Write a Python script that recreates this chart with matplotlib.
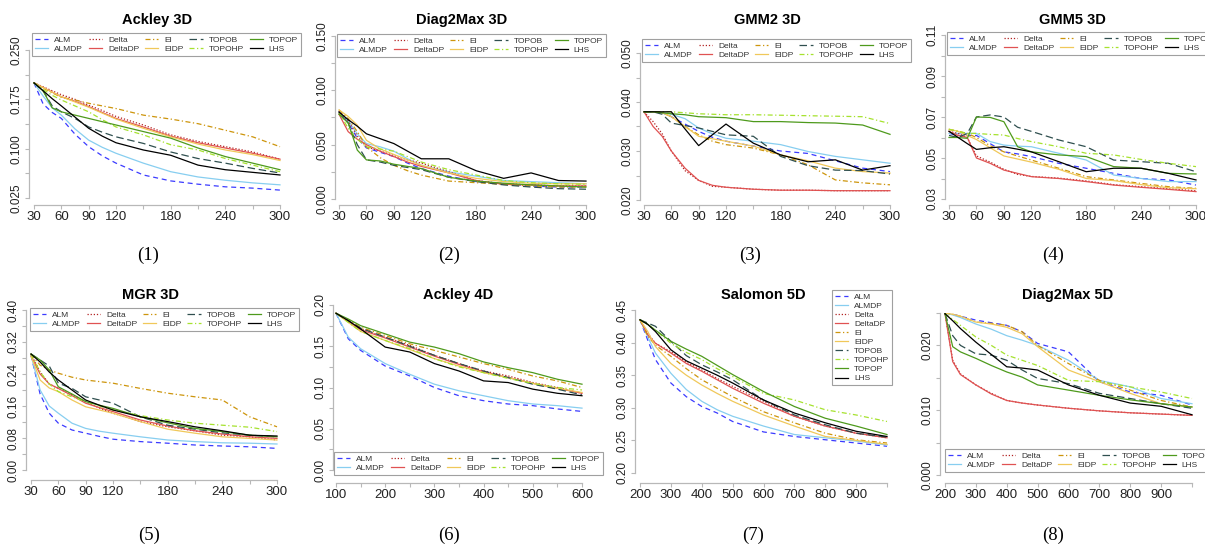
import matplotlib
matplotlib.use("Agg")
import matplotlib.pyplot as plt

plt.rcParams['font.family'] = ['Liberation Sans', 'DejaVu Sans']

W, H = 1205, 544

methods = ['ALM', 'ALMDP', 'Delta', 'DeltaDP', 'EI', 'EIDP', 'TOPOB', 'TOPOHP', 'TOPOP', 'LHS']

# ---- data (rows follow the order of `methods`) ----
x3d = [30, 40, 50, 60, 75, 90, 105, 120, 150, 180, 210, 240, 270, 300]
x4d = [100, 125, 150, 200, 250, 300, 350, 400, 450, 500, 550, 600]
x5d = [200, 225, 250, 300, 350, 400, 450, 500, 600, 700, 800, 900, 1000]

ackley3d = [
    [0.200, 0.168, 0.155, 0.146, 0.122, 0.103, 0.089, 0.078, 0.060, 0.051, 0.046, 0.042, 0.040, 0.037],
    [0.200, 0.180, 0.162, 0.151, 0.130, 0.113, 0.102, 0.093, 0.078, 0.065, 0.057, 0.052, 0.048, 0.045],
    [0.200, 0.194, 0.188, 0.182, 0.175, 0.166, 0.158, 0.149, 0.136, 0.121, 0.111, 0.103, 0.095, 0.084],
    [0.200, 0.193, 0.186, 0.179, 0.172, 0.164, 0.155, 0.146, 0.133, 0.119, 0.109, 0.101, 0.093, 0.084],
    [0.200, 0.192, 0.185, 0.178, 0.174, 0.169, 0.165, 0.161, 0.151, 0.145, 0.138, 0.128, 0.118, 0.103],
    [0.200, 0.193, 0.186, 0.179, 0.171, 0.163, 0.154, 0.145, 0.131, 0.118, 0.107, 0.098, 0.091, 0.082],
    [0.200, 0.188, 0.165, 0.156, 0.146, 0.133, 0.125, 0.118, 0.108, 0.095, 0.085, 0.078, 0.070, 0.063],
    [0.200, 0.190, 0.181, 0.174, 0.165, 0.156, 0.144, 0.133, 0.121, 0.106, 0.098, 0.085, 0.075, 0.065],
    [0.200, 0.188, 0.162, 0.156, 0.151, 0.146, 0.141, 0.136, 0.126, 0.116, 0.101, 0.088, 0.078, 0.068],
    [0.200, 0.188, 0.176, 0.165, 0.148, 0.131, 0.119, 0.109, 0.098, 0.090, 0.075, 0.068, 0.064, 0.060],
]

diag2max3d = [
    [0.081, 0.070, 0.056, 0.047, 0.043, 0.039, 0.033, 0.028, 0.021, 0.016, 0.014, 0.012, 0.011, 0.011],
    [0.080, 0.072, 0.060, 0.051, 0.048, 0.044, 0.037, 0.031, 0.025, 0.021, 0.017, 0.016, 0.015, 0.014],
    [0.081, 0.072, 0.058, 0.048, 0.044, 0.040, 0.036, 0.033, 0.025, 0.017, 0.014, 0.013, 0.012, 0.012],
    [0.078, 0.062, 0.055, 0.050, 0.044, 0.039, 0.034, 0.030, 0.024, 0.017, 0.0135, 0.013, 0.012, 0.012],
    [0.082, 0.074, 0.062, 0.048, 0.038, 0.031, 0.026, 0.022, 0.0165, 0.015, 0.0135, 0.012, 0.011, 0.011],
    [0.082, 0.076, 0.068, 0.054, 0.046, 0.041, 0.036, 0.031, 0.024, 0.019, 0.016, 0.0145, 0.014, 0.014],
    [0.079, 0.070, 0.050, 0.036, 0.034, 0.031, 0.029, 0.027, 0.020, 0.016, 0.013, 0.011, 0.0095, 0.009],
    [0.080, 0.065, 0.055, 0.048, 0.046, 0.044, 0.039, 0.034, 0.027, 0.022, 0.017, 0.015, 0.014, 0.0135],
    [0.078, 0.070, 0.045, 0.036, 0.035, 0.032, 0.030, 0.028, 0.020, 0.0165, 0.0145, 0.013, 0.012, 0.011],
    [0.080, 0.073, 0.067, 0.060, 0.0555, 0.051, 0.044, 0.037, 0.037, 0.026, 0.019, 0.024, 0.017, 0.0165],
]

gmm2_3d = [
    [0.038, 0.038, 0.0378, 0.037, 0.0355, 0.034, 0.0328, 0.032, 0.031, 0.030, 0.0295, 0.028, 0.0265, 0.0258],
    [0.038, 0.038, 0.0378, 0.0375, 0.0366, 0.0347, 0.0335, 0.0326, 0.032, 0.0313, 0.0299, 0.0289, 0.0282, 0.0275],
    [0.038, 0.036, 0.0335, 0.030, 0.026, 0.024, 0.0228, 0.0226, 0.0222, 0.022, 0.022, 0.0219, 0.0219, 0.0219],
    [0.038, 0.035, 0.033, 0.030, 0.0265, 0.024, 0.023, 0.0226, 0.0222, 0.022, 0.022, 0.0219, 0.0219, 0.0219],
    [0.038, 0.038, 0.0378, 0.037, 0.035, 0.0333, 0.032, 0.0313, 0.0306, 0.0292, 0.0272, 0.0241, 0.0235, 0.0231],
    [0.038, 0.038, 0.0378, 0.037, 0.035, 0.033, 0.0325, 0.032, 0.031, 0.0292, 0.028, 0.0265, 0.0258, 0.0255],
    [0.038, 0.038, 0.0375, 0.0357, 0.0352, 0.0347, 0.034, 0.0333, 0.033, 0.0289, 0.027, 0.0261, 0.026, 0.0253],
    [0.038, 0.038, 0.038, 0.038, 0.0378, 0.0376, 0.0375, 0.0374, 0.0374, 0.0373, 0.0372, 0.0371, 0.037, 0.0356],
    [0.038, 0.038, 0.0378, 0.0376, 0.0374, 0.037, 0.0369, 0.0368, 0.036, 0.036, 0.0358, 0.0357, 0.0353, 0.0334],
    [0.038, 0.038, 0.038, 0.038, 0.0345, 0.0311, 0.0333, 0.0355, 0.0316, 0.0292, 0.0278, 0.0282, 0.0261, 0.027],
]

gmm5_3d = [
    [0.062, 0.061, 0.061, 0.061, 0.057, 0.053, 0.052, 0.0507, 0.0474, 0.045, 0.0425, 0.040, 0.0393, 0.0368],
    [0.062, 0.062, 0.062, 0.062, 0.058, 0.0563, 0.0558, 0.0555, 0.0523, 0.049, 0.0417, 0.040, 0.0385, 0.0385],
    [0.063, 0.062, 0.060, 0.051, 0.048, 0.0445, 0.042, 0.041, 0.0402, 0.0388, 0.037, 0.036, 0.035, 0.034],
    [0.063, 0.061, 0.060, 0.050, 0.0474, 0.0441, 0.0425, 0.0409, 0.040, 0.0385, 0.0368, 0.0357, 0.0347, 0.0336],
    [0.064, 0.063, 0.062, 0.060, 0.056, 0.053, 0.051, 0.049, 0.045, 0.0409, 0.0393, 0.0376, 0.036, 0.0352],
    [0.064, 0.063, 0.061, 0.059, 0.055, 0.051, 0.0495, 0.048, 0.0445, 0.040, 0.039, 0.037, 0.0355, 0.035],
    [0.061, 0.060, 0.062, 0.070, 0.071, 0.070, 0.065, 0.063, 0.0588, 0.0555, 0.049, 0.0482, 0.0474, 0.0433],
    [0.064, 0.063, 0.062, 0.062, 0.0615, 0.0612, 0.0595, 0.058, 0.0555, 0.0523, 0.0515, 0.0493, 0.0474, 0.0458],
    [0.060, 0.060, 0.0596, 0.070, 0.0698, 0.0677, 0.0555, 0.053, 0.0515, 0.0507, 0.0458, 0.045, 0.0425, 0.0422],
    [0.063, 0.060, 0.057, 0.0542, 0.055, 0.0555, 0.0543, 0.053, 0.0482, 0.0433, 0.045, 0.045, 0.0425, 0.0393],
]

mgr3d = [
    [0.287, 0.190, 0.142, 0.117, 0.100, 0.092, 0.084, 0.077, 0.071, 0.067, 0.0625, 0.060, 0.058, 0.054],
    [0.287, 0.200, 0.160, 0.142, 0.117, 0.104, 0.097, 0.092, 0.083, 0.075, 0.071, 0.068, 0.067, 0.065],
    [0.290, 0.245, 0.215, 0.204, 0.188, 0.171, 0.155, 0.142, 0.121, 0.108, 0.098, 0.087, 0.083, 0.075],
    [0.285, 0.240, 0.215, 0.204, 0.186, 0.167, 0.156, 0.146, 0.125, 0.110, 0.098, 0.090, 0.083, 0.079],
    [0.290, 0.262, 0.250, 0.242, 0.232, 0.225, 0.221, 0.217, 0.204, 0.192, 0.183, 0.175, 0.133, 0.108],
    [0.285, 0.225, 0.205, 0.196, 0.175, 0.158, 0.150, 0.142, 0.121, 0.102, 0.092, 0.083, 0.079, 0.075],
    [0.290, 0.275, 0.260, 0.217, 0.204, 0.183, 0.175, 0.167, 0.133, 0.112, 0.102, 0.093, 0.087, 0.083],
    [0.290, 0.245, 0.215, 0.196, 0.183, 0.171, 0.160, 0.150, 0.136, 0.125, 0.117, 0.112, 0.107, 0.096],
    [0.290, 0.275, 0.250, 0.208, 0.190, 0.171, 0.162, 0.154, 0.133, 0.118, 0.104, 0.096, 0.087, 0.083],
    [0.290, 0.270, 0.245, 0.225, 0.200, 0.175, 0.162, 0.150, 0.133, 0.121, 0.108, 0.098, 0.087, 0.085],
]

ackley4d = [
    [0.190, 0.159, 0.145, 0.126, 0.114, 0.100, 0.090, 0.084, 0.080, 0.078, 0.074, 0.071],
    [0.190, 0.161, 0.147, 0.129, 0.116, 0.104, 0.096, 0.090, 0.084, 0.080, 0.078, 0.075],
    [0.190, 0.181, 0.171, 0.161, 0.151, 0.139, 0.129, 0.120, 0.114, 0.106, 0.100, 0.093],
    [0.190, 0.180, 0.170, 0.160, 0.149, 0.138, 0.128, 0.119, 0.112, 0.105, 0.099, 0.093],
    [0.190, 0.182, 0.173, 0.163, 0.153, 0.145, 0.137, 0.129, 0.122, 0.114, 0.108, 0.100],
    [0.190, 0.179, 0.168, 0.157, 0.146, 0.135, 0.126, 0.118, 0.112, 0.105, 0.099, 0.094],
    [0.190, 0.181, 0.172, 0.161, 0.150, 0.139, 0.129, 0.120, 0.112, 0.104, 0.098, 0.091],
    [0.190, 0.179, 0.168, 0.157, 0.147, 0.135, 0.125, 0.118, 0.111, 0.105, 0.100, 0.097],
    [0.190, 0.183, 0.175, 0.165, 0.155, 0.149, 0.141, 0.131, 0.124, 0.118, 0.110, 0.104],
    [0.190, 0.181, 0.171, 0.149, 0.143, 0.129, 0.120, 0.108, 0.106, 0.098, 0.093, 0.090],
]

salomon5d = [
    [0.435, 0.404, 0.374, 0.338, 0.317, 0.302, 0.292, 0.279, 0.263, 0.256, 0.251, 0.246, 0.241],
    [0.435, 0.409, 0.384, 0.353, 0.328, 0.310, 0.297, 0.287, 0.272, 0.259, 0.254, 0.249, 0.243],
    [0.435, 0.414, 0.399, 0.386, 0.370, 0.358, 0.345, 0.333, 0.310, 0.287, 0.272, 0.261, 0.254],
    [0.435, 0.412, 0.399, 0.384, 0.368, 0.356, 0.343, 0.330, 0.307, 0.287, 0.272, 0.261, 0.254],
    [0.435, 0.410, 0.396, 0.379, 0.360, 0.343, 0.330, 0.317, 0.294, 0.277, 0.261, 0.251, 0.246],
    [0.435, 0.417, 0.394, 0.368, 0.350, 0.335, 0.322, 0.310, 0.289, 0.272, 0.256, 0.250, 0.244],
    [0.435, 0.430, 0.425, 0.402, 0.380, 0.366, 0.355, 0.343, 0.312, 0.289, 0.274, 0.261, 0.255],
    [0.435, 0.428, 0.419, 0.399, 0.385, 0.374, 0.360, 0.348, 0.322, 0.312, 0.297, 0.289, 0.279],
    [0.435, 0.428, 0.419, 0.402, 0.390, 0.379, 0.365, 0.351, 0.325, 0.302, 0.284, 0.272, 0.259],
    [0.435, 0.428, 0.417, 0.389, 0.372, 0.361, 0.350, 0.338, 0.312, 0.292, 0.277, 0.264, 0.256],
]

diag2max5d = [
    [0.0250, 0.0248, 0.0245, 0.0239, 0.0235, 0.0231, 0.0221, 0.0203, 0.0190, 0.0144, 0.0128, 0.0123, 0.0108],
    [0.0250, 0.0247, 0.0243, 0.0233, 0.0225, 0.0215, 0.0208, 0.0200, 0.0177, 0.0146, 0.0136, 0.0118, 0.0110],
    [0.0249, 0.0177, 0.0156, 0.0139, 0.0126, 0.0115, 0.0111, 0.0108, 0.0103, 0.0099, 0.0096, 0.0094, 0.0092],
    [0.0249, 0.0175, 0.0155, 0.0139, 0.0125, 0.0115, 0.0111, 0.0108, 0.0103, 0.0099, 0.0096, 0.0094, 0.0092],
    [0.0250, 0.0248, 0.0245, 0.0236, 0.0234, 0.0231, 0.0221, 0.0200, 0.0172, 0.0146, 0.0131, 0.0115, 0.0105],
    [0.0250, 0.0248, 0.0245, 0.0236, 0.0233, 0.0228, 0.0218, 0.0198, 0.0162, 0.0144, 0.0126, 0.0110, 0.0105],
    [0.0249, 0.0215, 0.0200, 0.0187, 0.0185, 0.0177, 0.0162, 0.0149, 0.0141, 0.0126, 0.0118, 0.0110, 0.0103],
    [0.0249, 0.0240, 0.0231, 0.0213, 0.0200, 0.0185, 0.0177, 0.0169, 0.0146, 0.0144, 0.0136, 0.0128, 0.0118],
    [0.0249, 0.0198, 0.0190, 0.0180, 0.0169, 0.0159, 0.0151, 0.0139, 0.0131, 0.0123, 0.0116, 0.0110, 0.0105],
    [0.0249, 0.0238, 0.0226, 0.0205, 0.0186, 0.0167, 0.0165, 0.0162, 0.0139, 0.0123, 0.0111, 0.0106, 0.0093],
]

# ---- styles ----
colors = ['#3b3bff', '#87cef0', '#b22222', '#e05252', '#cd950c',
          '#f0c85a', '#2f4f4f', '#a6e22e', '#4e9a1c', '#000000']
dashes = [(0, (4, 3)), '-', (0, (1, 1.5)), '-', (0, (4, 2, 1, 2)),
          '-', (0, (6, 3)), (0, (4, 2, 1, 2)), '-', '-']


def px_axes(fig, left, top, right, bottom, xa, ya):
    # xa/ya: (value0, pixel0, value1, pixel1); pixels measured from top-left
    ax = fig.add_axes([left / W, 1 - bottom / H, (right - left) / W, (bottom - top) / H])
    sx = (xa[3] - xa[1]) / (xa[2] - xa[0])
    ax.set_xlim(xa[0] - (xa[1] - left) / sx, xa[2] + (right - xa[3]) / sx)
    sy = (ya[1] - ya[3]) / (ya[2] - ya[0])
    ax.set_ylim(ya[0] - (bottom - ya[1]) / sy, ya[2] + (ya[3] - top) / sy)
    return ax


def tick_labels(vals, shown, fmt):
    return [fmt.format(v) if v in shown else '' for v in vals]


fig = plt.figure(figsize=(W / 100, H / 100), dpi=100)

x3_ticks = [30, 60, 90, 120, 150, 180, 210, 240, 270, 300]
x3_lab = tick_labels(x3_ticks, [30, 60, 90, 120, 180, 240, 300], '{:d}')
x4_ticks = [100, 150, 200, 250, 300, 350, 400, 450, 500, 550, 600]
x4_lab = tick_labels(x4_ticks, [100, 200, 300, 400, 500, 600], '{:d}')
x5_ticks = [200, 300, 400, 500, 600, 700, 800, 900, 1000]
x5_lab = tick_labels(x5_ticks, [200, 300, 400, 500, 600, 700, 800, 900], '{:d}')

panels = [
    dict(title='Ackley 3D', tag='(1)', x=x3d, data=ackley3d, rect=(29, 33, 285, 205),
         xa=(30, 34, 300, 280), ya=(0.025, 198, 0.25, 50), xt=x3_ticks, xl=x3_lab,
         yt=[0.025, 0.0625, 0.1, 0.1375, 0.175, 0.2125, 0.25],
         yl=['0.025', '', '0.100', '', '0.175', '', '0.250'],
         leg=(32, 33, 5), ttl=(157, 20), tg=(148, 255)),
    dict(title='Diag2Max 3D', tag='(2)', x=x3d, data=diag2max3d, rect=(335, 34, 590, 205),
         xa=(30, 339, 300, 586), ya=(0.0, 199, 0.15, 36), xt=x3_ticks, xl=x3_lab,
         yt=[0.0, 0.025, 0.05, 0.075, 0.1, 0.125, 0.15],
         yl=['0.000', '', '0.050', '', '0.100', '', '0.150'],
         leg=(337, 34, 5), ttl=(462, 20), tg=(449, 255)),
    dict(title='GMM2 3D', tag='(3)', x=x3d, data=gmm2_3d, rect=(640, 39, 895, 205),
         xa=(30, 644, 300, 890), ya=(0.02, 200, 0.05, 53), xt=x3_ticks, xl=x3_lab,
         yt=[0.02, 0.025, 0.03, 0.035, 0.04, 0.045, 0.05],
         yl=['0.020', '', '0.030', '', '0.040', '', '0.050'],
         leg=(642, 39, 5), ttl=(767, 20), tg=(750, 255)),
    dict(title='GMM5 3D', tag='(4)', x=x3d, data=gmm5_3d, rect=(945, 32, 1200, 205),
         xa=(30, 949, 300, 1196), ya=(0.03, 199, 0.11, 35), xt=x3_ticks, xl=x3_lab,
         yt=[0.03, 0.04, 0.05, 0.06, 0.07, 0.08, 0.09, 0.10, 0.11],
         yl=['0.03', '', '0.05', '', '0.07', '', '0.09', '', '0.11'],
         leg=(947, 32, 5), ttl=(1072, 20), tg=(1053, 255)),
    dict(title='MGR 3D', tag='(5)', x=x3d, data=mgr3d, rect=(26, 308, 282, 480),
         xa=(30, 31, 300, 277), ya=(0.0, 470, 0.40, 310), xt=x3_ticks, xl=x3_lab,
         yt=[0.0, 0.04, 0.08, 0.12, 0.16, 0.20, 0.24, 0.28, 0.32, 0.36, 0.40],
         yl=['0.00', '', '0.08', '', '0.16', '', '0.24', '', '0.32', '', '0.40'],
         leg=(30, 308, 5), ttl=(150, 295), tg=(149, 535)),
    dict(title='Ackley 4D', tag='(6)', x=x4d, data=ackley4d, rect=(333, 305, 587, 483),
         xa=(100, 336, 600, 582), ya=(0.0, 470, 0.20, 305), xt=x4_ticks, xl=x4_lab,
         yt=[0.0, 0.025, 0.05, 0.075, 0.10, 0.125, 0.15, 0.175, 0.20],
         yl=['0.00', '', '0.05', '', '0.10', '', '0.15', '', '0.20'],
         leg=(334, 452, 5), ttl=(458, 295), tg=(449, 535)),
    dict(title='Salomon 5D', tag='(7)', x=x5d, data=salomon5d, rect=(635, 310, 892, 483),
         xa=(200, 640, 1000, 887), ya=(0.20, 473, 0.45, 310), xt=x5_ticks, xl=x5_lab,
         yt=[0.20, 0.25, 0.30, 0.35, 0.40, 0.45],
         yl=['0.20', '0.25', '0.30', '0.35', '0.40', '0.45'],
         leg=(832, 290, 1), ttl=(763, 295), tg=(753, 535)),
    dict(title='Diag2Max 5D', tag='(8)', x=x5d, data=diag2max5d, rect=(940, 313, 1197, 483),
         xa=(200, 945, 1000, 1192), ya=(0.0, 475, 0.025, 313), xt=x5_ticks, xl=x5_lab,
         yt=[0.0, 0.005, 0.01, 0.015, 0.02, 0.025],
         yl=['0.000', '', '0.010', '', '0.020', ''],
         leg=(945, 449, 5), ttl=(1068, 295), tg=(1053, 535)),
]

for p in panels:
    ax = px_axes(fig, *p['rect'], p['xa'], p['ya'])
    for name, ys, c, ls in zip(methods, p['data'], colors, dashes):
        ax.plot(p['x'], ys, color=c, linestyle=ls, lw=0.9, label=name)

    for side in ('top', 'right'):
        ax.spines[side].set_visible(False)
    for side in ('left', 'bottom'):
        ax.spines[side].set_color('#b8b8b8')
        ax.spines[side].set_linewidth(0.9)
    ax.spines['bottom'].set_bounds(p['xt'][0], p['xt'][-1])
    ax.spines['left'].set_bounds(p['yt'][0], p['yt'][-1])

    ax.set_xticks(p['xt'])
    ax.set_xticklabels(p['xl'])
    ax.set_yticks(p['yt'])
    ax.set_yticklabels(p['yl'], rotation=90, va='center')
    ax.tick_params(axis='both', length=3, width=0.8, color='#b8b8b8', labelcolor='#222222')
    ax.tick_params(axis='x', labelsize=9.5, pad=1.5)
    ax.tick_params(axis='y', labelsize=8.5, pad=1.5)

    lx, ly, ncol = p['leg']
    leg = ax.legend(loc='upper left', bbox_to_anchor=(lx / W, 1 - ly / H),
                    bbox_transform=fig.transFigure, ncol=ncol, fontsize=6.0,
                    frameon=True, fancybox=False, borderaxespad=0, borderpad=0.35,
                    handlelength=1.6, handletextpad=0.7, columnspacing=0.7,
                    labelspacing=0.15)
    leg.get_frame().set_edgecolor('#888888')
    leg.get_frame().set_linewidth(0.8)
    for t in leg.get_texts():
        t.set_color('#333333')

    fig.text(p['ttl'][0] / W, 1 - p['ttl'][1] / H, p['title'], ha='center',
             va='center', fontsize=10.5, fontweight='bold')
    fig.text(p['tg'][0] / W, 1 - p['tg'][1] / H, p['tag'], ha='center',
             va='center', fontsize=13.5, family='Liberation Serif')

fig.savefig('out.png', dpi=100)
